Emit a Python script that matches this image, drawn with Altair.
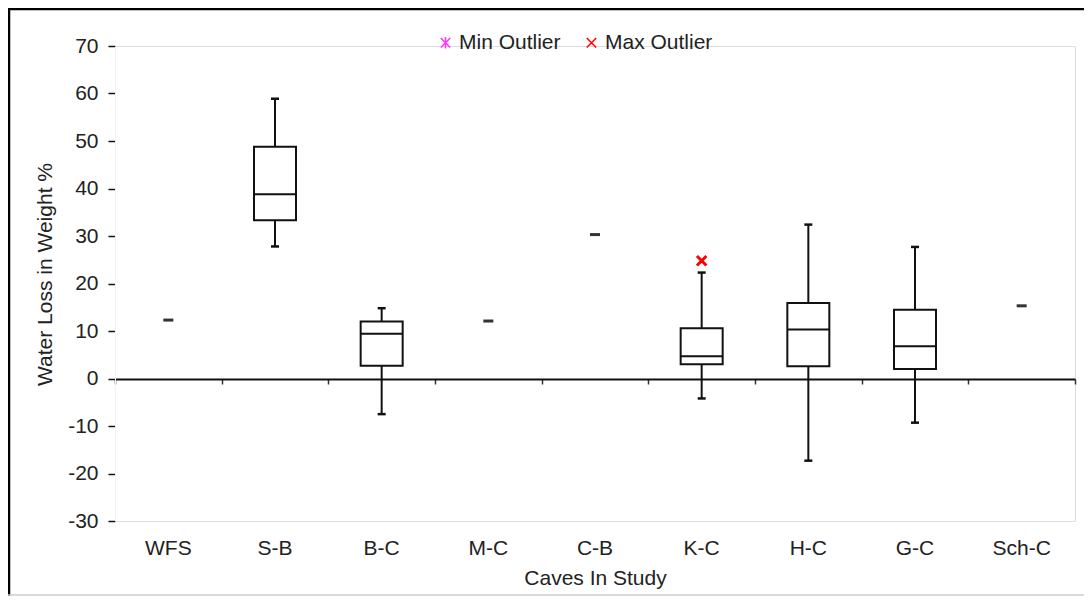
import altair as alt
import pandas as pd

FONT = "Liberation Sans"

# ---- data ----
caves = ["WFS", "S-B", "B-C", "M-C", "C-B", "K-C", "H-C", "G-C", "Sch-C"]

box_caves = ["S-B", "B-C", "K-C", "H-C", "G-C"]
box_min = [27.8, -7.5, -4.2, -17.3, -9.3]
box_q1 = [33.3, 2.7, 3.0, 2.6, 2.0]
box_median = [38.8, 9.4, 4.7, 10.3, 6.8]
box_q3 = [48.8, 12.0, 10.6, 15.9, 14.5]
box_max = [58.9, 14.8, 22.3, 32.4, 27.7]

single_caves = ["WFS", "M-C", "C-B", "Sch-C"]
single_values = [12.3, 12.1, 30.3, 15.3]

outlier_caves = ["K-C"]
outlier_values = [24.8]
outlier_types = ["Max Outlier"]

legend_types = ["Min Outlier", "Max Outlier"]
legend_colors = ["#ff33ff", "#ff0000"]
legend_shapes = ["M-1,-1L1,1M1,-1L-1,1M0,-1.2L0,1.2", "M-1,-1L1,1M1,-1L-1,1"]

y_ticks = [-30, -20, -10, 0, 10, 20, 30, 40, 50, 60, 70]

box_df = pd.DataFrame({"cave": box_caves, "lo": box_min, "q1": box_q1,
                       "med": box_median, "q3": box_q3, "hi": box_max})
single_df = pd.DataFrame({"cave": single_caves, "value": single_values})
out_df = pd.DataFrame({"cave": outlier_caves, "value": outlier_values, "type": outlier_types})
frame_df = pd.DataFrame({"k": [0]})

# ---- scales / axes ----
xscale = alt.Scale(type="band", domain=caves, paddingInner=0, paddingOuter=0)
yscale = alt.Scale(domain=[-30, 70], nice=False, zero=False)

label_axis = alt.Axis(orient="bottom", domain=False, ticks=False, grid=False,
                      labelFontSize=21, labelFont=FONT, labelColor="#222",
                      labelPadding=16, labelAngle=0,
                      title="Caves In Study", titleFont=FONT, titleFontSize=21,
                      titleFontWeight="normal", titleColor="#222",
                      titleX=480, titleY=57, titleAlign="center", titleBaseline="middle")

line_axis = alt.Axis(orient="bottom", offset=-142, domain=True, domainColor="#111",
                     domainWidth=2, ticks=True, tickBand="extent", tickSize=5,
                     tickColor="#333", tickWidth=1.5, labels=False, grid=False, title="")

y_axis = alt.Axis(values=y_ticks, grid=False, domainColor="#f3f3f3", domainWidth=1,
                  tickColor="#111", tickSize=7, tickWidth=1.5,
                  labelExpr="'' + datum.value",
                  labelFontSize=21, labelFont=FONT, labelColor="#222", labelPadding=10,
                  title="Water Loss in Weight %", titleFont=FONT, titleFontSize=21,
                  titleFontWeight="normal", titleColor="#222",
                  titleX=-70, titleY=228, titleAngle=270,
                  titleAlign="center", titleBaseline="middle")

LC = "#111"

def xe(axis):
    return alt.X("cave:N", scale=xscale, axis=axis)

def ye(field):
    return alt.Y(field, scale=yscale, axis=y_axis)

boxes = alt.Chart(box_df).mark_bar(size=42, fill="white", stroke=LC, strokeWidth=2, opacity=1).encode(
    x=xe(label_axis), y=ye("q1:Q"), y2="q3:Q")

whisk_lo = alt.Chart(box_df).mark_rule(color=LC, strokeWidth=2).encode(
    x=xe(None), y=ye("lo:Q"), y2="q1:Q")

whisk_hi = alt.Chart(box_df).mark_rule(color=LC, strokeWidth=2).encode(
    x=xe(None), y=ye("q3:Q"), y2="hi:Q")

medians = alt.Chart(box_df).mark_tick(size=42, thickness=2, color=LC, opacity=1).encode(
    x=xe(None), y=ye("med:Q"))

cap_lo = alt.Chart(box_df).mark_tick(size=8, thickness=2.5, color=LC, opacity=1).encode(
    x=xe(None), y=ye("lo:Q"))

cap_hi = alt.Chart(box_df).mark_tick(size=8, thickness=2.5, color=LC, opacity=1).encode(
    x=xe(None), y=ye("hi:Q"))

singles = alt.Chart(single_df).mark_tick(size=10, thickness=3, color="#333", opacity=1).encode(
    x=xe(line_axis), y=ye("value:Q"))

outliers = alt.Chart(out_df).mark_point(filled=False, size=90, strokeWidth=3, opacity=1).encode(
    x=xe(None), y=ye("value:Q"),
    color=alt.Color("type:N", scale=alt.Scale(domain=legend_types, range=legend_colors),
                    legend=alt.Legend(orient="none", legendX=320, legendY=-14,
                                      direction="horizontal", title=None,
                                      labelFont=FONT, labelFontSize=21, labelColor="#222",
                                      symbolSize=90, symbolStrokeWidth=1.5,
                                      labelOffset=3, columnPadding=20)),
    shape=alt.Shape("type:N", scale=alt.Scale(domain=legend_types, range=legend_shapes)),
)

frame_left = alt.Chart(frame_df).mark_rule(color="#000", strokeWidth=2.5).encode(
    x=alt.value(-106), y=alt.value(-38), y2=alt.value(550))
frame_top = alt.Chart(frame_df).mark_rule(color="#000", strokeWidth=2.5).encode(
    x=alt.value(-107), x2=alt.value(975), y=alt.value(-37))
frame_bottom = alt.Chart(frame_df).mark_rule(color="#cccccc", strokeWidth=1.5).encode(
    x=alt.value(-107), x2=alt.value(975), y=alt.value(549))

chart = alt.layer(
    boxes, whisk_lo, whisk_hi, medians, cap_lo, cap_hi, singles, outliers,
    frame_left, frame_top, frame_bottom,
).resolve_axis(x="independent").properties(
    width=960, height=475,
    autosize=alt.AutoSizeParams(type="none"),
    padding={"left": 107, "top": 38, "right": 9, "bottom": 76},
).configure_view(strokeWidth=0).configure(font=FONT)

chart.save("out.html", embed_options={"renderer": "svg", "actions": False})
